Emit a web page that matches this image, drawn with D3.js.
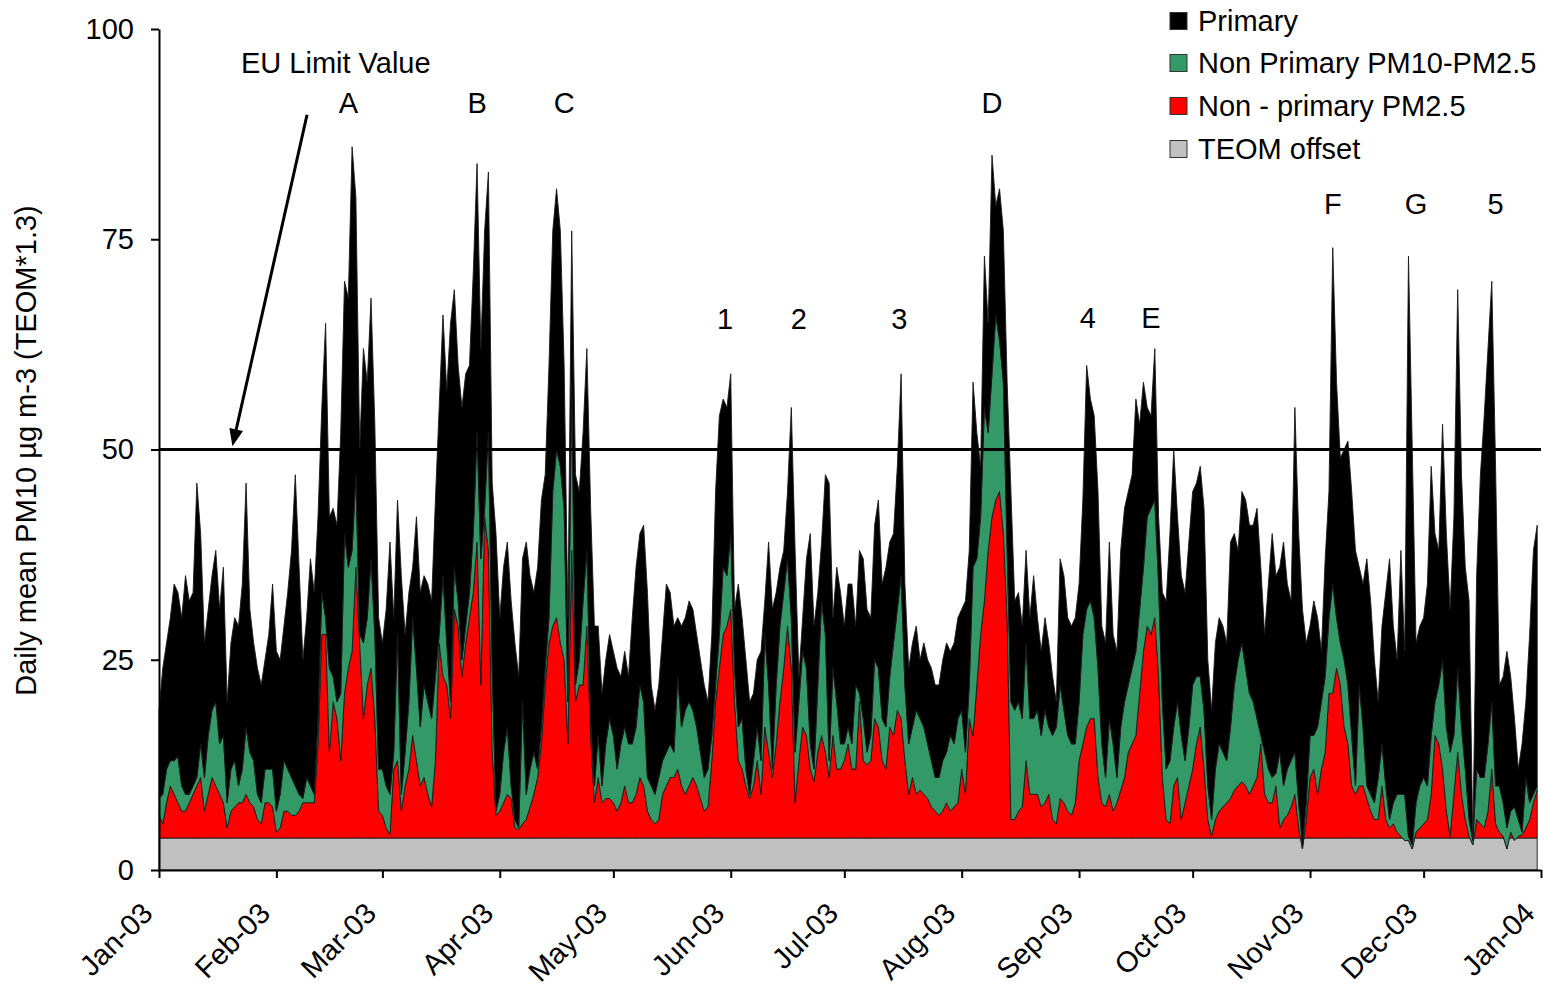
<!DOCTYPE html>
<html>
<head>
<meta charset="utf-8">
<script src="https://cdn.jsdelivr.net/npm/d3@7"></script>
<style>
  body { margin: 0; background: #fff; }
  svg { display: block; }
  text { font-family: "Liberation Sans", Arial, sans-serif; fill: #000; }
</style>
</head>
<body>
<svg id="chart" width="1543" height="988"></svg>
<script>
// Daily series for 2003, day 0 = 1 January
const startDate = Date.UTC(2003, 0, 1);
const endDate = Date.UTC(2004, 0, 1);

// Total daily mean PM10 (TEOM*1.3), µg m-3
const pm10Total = [
  19,24,27,30,34,33,30,35,32,33, 46,40,27,31,35,38,31,36,20,27,
  30,29,34,46,31,27,24,22,25,28, 34,26,25,29,33,38,47,36,25,30,
  37,33,42,55,65,42,43,41,52,70, 68,86,80,50,62,58,68,53,30,27,
  31,39,30,44,35,28,33,36,42,33, 35,34,32,44,55,66,57,65,69,60,
  55,59,60,71,84,62,76,83,46,40, 30,36,39,32,27,23,37,39,35,33,
  36,44,47,60,76,81,76,60,30,76, 47,45,52,62,43,29,29,21,25,28,
  26,24,23,26,23,30,36,40,41,33, 22,19,22,28,34,33,29,30,29,30,
  32,31,28,25,22,20,28,45,54,56, 55,59,31,34,30,25,20,21,25,26,
  32,39,31,33,36,38,45,55,38,23, 30,37,40,29,33,39,47,46,30,36,
  33,29,34,34,29,38,37,31,30,41, 44,34,36,39,40,48,59,34,24,27,
  29,25,27,25,24,22,22,25,27,26, 27,30,31,32,38,58,52,48,73,65,
  85,79,81,76,58,45,32,33,29,38, 30,35,30,26,30,27,23,20,37,35,
  30,29,30,34,44,60,56,54,45,29, 27,39,28,26,38,43,45,47,56,53,
  58,55,54,62,42,33,32,40,50,42, 35,33,39,45,46,48,43,25,19,27,
  30,29,27,39,40,38,45,44,41,41, 43,36,28,34,40,35,36,39,34,32,
  55,40,31,27,29,32,30,26,37,45, 74,58,49,50,51,45,38,36,34,37,
  32,25,20,29,33,37,29,25,38,26, 73,50,27,29,30,34,48,40,38,53,
  40,31,42,69,47,36,32,3.5,35,47, 54,62,70,48,22,23,26,23,18,12,
  15,20,28,38,41
];

// Level reached by the non-primary part of PM10 (offset + PM2.5 + PM10-PM2.5)
const nonPrimaryPM10 = [
  8.5,9,12,13,13,13.5,10,9,9,10, 11,15,11,16,19,20,15,16,8,12,
  13,10,12,17,14,13,9,8,12,12, 12,7,9,13,12,11,10,9,8.5,11,
  10,9,18,33,30,24,23,20,21,40, 36,38,47,28,27,30,37,28,12,12,
  10,9,14,28,9,14,20,30,24,17, 22,20,18,23,28,35,27,20,36,32,
  25,29,33,40,52,37,43,52,24,7, 9,14,17,10,6,5,20,9,12,14,
  12,17,24,30,45,50,48,43,20,58, 22,25,32,38,18,10,16,10,15,18,
  16,12,15,17,15,15,17,22,20,11, 10,9,11,13,14,15,14,23,17,19,
  20,19,17,14,11,12,16,22,28,36, 35,40,24,17,18,12,9,13,17,13,
  28,22,12,22,29,33,37,30,14,20, 26,24,15,12,22,32,28,13,24,20,
  15,15,17,15,22,21,18,14,16,25, 24,18,17,23,27,31,35,22,15,17,
  19,18,17,15,13,11,11,13,14,16, 15,18,19,14,22,36,37,42,55,52,
  59,66,63,58,38,20,19,20,18,27, 18,18,19,16,19,17,16,17,22,19,
  16,15,15,20,28,31,32,30,24,15, 11,18,15,11,17,20,22,24,26,31,
  36,42,43,44,34,20,12,13,17,20, 16,13,17,22,23,23,19,10,6,12,
  15,14,13,17,22,25,27,24,21,20, 18,16,14,12,11,11.5,14,10,12,13,
  14,8,3,8,16,16,17,20,23,30, 34,30,27,25,22,16,10,22,17,10,
  9,8,11,15,10,6,8,9,9,9, 4,3,8,10,11,10,16,20,22,25,
  17,14,16,24,17,12,6,3.5,12,11, 11,15,20,10,10,8,5,7,7.5,6,
  4.5,11,8,9,10
];

// Level reached by the non-primary PM2.5 part (offset + PM2.5)
const nonPrimaryPM25 = [
  6.5,5.5,8,10,9,8,7,7,8,9, 10,11,7,9,11,10,9,8,5,7,
  7.5,8,8,9,8,7.5,6,5.5,8,8, 7.5,4.5,5,7,7,6.5,6.5,7,8,8,
  8,8,15,28,28,14,20,18,13,21, 24,26,36,27,18,22,24,18,7,6.5,
  5,4.2,12,13,7,10,12,16,13,10, 11,9,7.5,13,27,23,22,18,31,29,
  23,27,30,33,39,22,42,38,14,6.5, 7,8,9,8.5,5,4.8,5.5,6,7.5,9,
  11,15,22,27,29,30,27,25,15,38, 20,22,22,29,16,8,11,8,8.5,8.5,
  8,7,8,10,8,8,9,11,10,7, 6,5.5,6,9,10,11,11,12,10,9,
  10,11,10,8.5,7,7.5,13,20,24,28, 29,31,20,13,12,10,8.5,10,13,9,
  17,14,11,15,20,24,29,24,8,13, 17,16,12,10.5,14,16,14,11,16,12,
  12,13,15,12,12,20,13,12.5,13,18, 17,13,12,17,16,19,18,13,9,11,
  9,9.5,9,8.5,7.5,7,6.5,7,8,7, 7.5,8,12,9,18,16,22,28,32,38,
  42,44,45,40,30,6,6,7,7.5,13, 9,9,9,7.5,8,9,6,5.5,8.5,8,
  7,6.5,8,13,15,17,18,18,11,8, 7.5,9,7,8,9.5,11,14,15,16,21,
  26,29,28,30,23,11,6,5.5,10,11, 6,8,10,12,15,17,12,6,4,6,
  7,7.5,8,8.5,9.5,10,10.5,10,9,10, 11,15,9,8,8,10,5,6,6.5,7.5,
  9,5,2.5,6,11,12,9,12,14,21, 21,24,22,17,15,10,9,10,10,8.5,
  7,6,6,10,6,5,5.5,4.5,4,3.5, 3.5,2.5,4.5,5,5.5,6,9,16,15,12,
  7,4,9,14,9,6,4,3,6,5.5, 5,7,12,5.5,4.5,4,2.5,4.5,3.5,4,
  4.2,5,6,8,9.5
];

const teomOffset = 3.8;   // constant TEOM offset
const euLimit = 50;       // EU daily limit value
const yTicks = [0, 25, 50, 75, 100];

const legendLabels = ["Primary", "Non Primary PM10-PM2.5", "Non - primary PM2.5", "TEOM offset"];
const layerKeys = ["offset", "fine", "coarse", "primary"];
const layerColors = { offset: "#c0c0c0", fine: "#ff0000", coarse: "#339966", primary: "#000000" };
const legendKeys = ["primary", "coarse", "fine", "offset"];

// Episode markers: label, day of year, height (µg m-3) of the label centre
const episodeLabels = ["A", "B", "C", "D", "1", "2", "3", "4", "E", "F", "G", "5"];
const episodeDays   = [50, 84, 107, 220, 149.5, 169, 195.5, 245.3, 262, 310, 332, 353];
const episodeLevels = [91.2, 91.2, 91.2, 91.2, 65.5, 65.5, 65.5, 65.6, 65.6, 79.2, 79.2, 79.2];

// Limit-value note and its arrow (day, level)
const limitNote = { text: "EU Limit Value", day: 46.7, level: 96 };
const arrowFrom = [39.1, 89.8];
const arrowTo = [19.4, 50.4];

const FONT = 29;

const svg = d3.select("#chart");
const margin = { left: 159, right: 2, top: 29, bottom: 118 };
const W = 1543, H = 988;

const dayToDate = d => new Date(startDate + d * 864e5);

const x = d3.scaleUtc()
  .domain([new Date(startDate), new Date(endDate)])
  .range([margin.left, W - margin.right]);
const y = d3.scaleLinear()
  .domain([0, 100])
  .range([H - margin.bottom, margin.top]);

const rows = pm10Total.map((t, i) => ({
  date: dayToDate(i),
  offset: teomOffset,
  fine: nonPrimaryPM25[i] - teomOffset,
  coarse: nonPrimaryPM10[i] - nonPrimaryPM25[i],
  primary: t - nonPrimaryPM10[i]
}));

const series = d3.stack().keys(layerKeys)(rows);

const area = d3.area()
  .x(d => x(d.data.date))
  .y0(d => y(d[0]))
  .y1(d => y(d[1]));

svg.append("rect").attr("width", W).attr("height", H).attr("fill", "#fff");

svg.append("g").selectAll("path")
  .data(series)
  .join("path")
  .attr("d", area)
  .attr("fill", s => layerColors[s.key])
  .attr("stroke", "#1a1a1a")
  .attr("stroke-width", 0.9)
  .attr("stroke-linejoin", "round");

// EU limit line
svg.append("line")
  .attr("x1", x.range()[0]).attr("x2", x.range()[1])
  .attr("y1", y(euLimit)).attr("y2", y(euLimit))
  .attr("stroke", "#000").attr("stroke-width", 3);

// Axes
const yAxis = d3.axisLeft(y).tickValues(yTicks).tickSize(8).tickSizeOuter(0).tickPadding(17);
const gy = svg.append("g").attr("transform", `translate(${margin.left},0)`).call(yAxis);
gy.select(".domain").attr("stroke", "#000").attr("stroke-width", 2);
gy.selectAll(".tick line").attr("stroke", "#000").attr("stroke-width", 2);
gy.selectAll(".tick text").attr("font-size", FONT).attr("font-family", "Liberation Sans, Arial, sans-serif");

const xAxis = d3.axisBottom(x)
  .ticks(d3.utcMonth.every(1))
  .tickFormat(d3.utcFormat("%b-%y"))
  .tickSize(8).tickSizeOuter(0);
const gx = svg.append("g").attr("transform", `translate(0,${y(0)})`).call(xAxis);
gx.select(".domain").attr("stroke", "#000").attr("stroke-width", 2);
gx.selectAll(".tick line").attr("stroke", "#000").attr("stroke-width", 2);
gx.selectAll(".tick text")
  .attr("font-size", FONT)
  .attr("font-family", "Liberation Sans, Arial, sans-serif")
  .attr("text-anchor", "end")
  .attr("x", null).attr("y", null).attr("dy", null)
  .attr("transform", "translate(-5,45) rotate(-45)");

// Y axis title
svg.append("text")
  .attr("transform", `translate(36,${(y(0) + y(100)) / 2 + 1}) rotate(-90)`)
  .attr("text-anchor", "middle")
  .attr("font-size", FONT)
  .text("Daily mean PM10 µg m-3 (TEOM*1.3)");

// Episode labels
svg.append("g").selectAll("text")
  .data(episodeLabels)
  .join("text")
  .attr("x", (d, i) => x(dayToDate(episodeDays[i])))
  .attr("y", (d, i) => y(episodeLevels[i]))
  .attr("dy", "0.35em")
  .attr("text-anchor", "middle")
  .attr("font-size", FONT)
  .text(d => d);

// Limit note and arrow
svg.append("text")
  .attr("x", x(dayToDate(limitNote.day)))
  .attr("y", y(limitNote.level))
  .attr("dy", "0.35em")
  .attr("text-anchor", "middle")
  .attr("font-size", FONT)
  .text(limitNote.text);

const ax0 = x(dayToDate(arrowFrom[0])), ay0 = y(arrowFrom[1]);
const ax1 = x(dayToDate(arrowTo[0])), ay1 = y(arrowTo[1]);
const ang = Math.atan2(ay1 - ay0, ax1 - ax0);
const headLen = 17, headW = 7;
const bx = ax1 - headLen * Math.cos(ang), by = ay1 - headLen * Math.sin(ang);
svg.append("line")
  .attr("x1", ax0).attr("y1", ay0).attr("x2", bx).attr("y2", by)
  .attr("stroke", "#000").attr("stroke-width", 3);
svg.append("path")
  .attr("d", `M${ax1},${ay1}L${bx + headW * Math.sin(ang)},${by - headW * Math.cos(ang)}L${bx - headW * Math.sin(ang)},${by + headW * Math.cos(ang)}Z`)
  .attr("fill", "#000");

// Legend
const legend = svg.append("g").attr("transform", "translate(1170,0)");
const rowsY = [21, 63, 106, 149];
legendKeys.forEach((k, i) => {
  legend.append("rect")
    .attr("x", 0).attr("y", rowsY[i] - 8.5)
    .attr("width", 17).attr("height", 17)
    .attr("fill", layerColors[k])
    .attr("stroke", "#333").attr("stroke-width", 1);
  legend.append("text")
    .attr("x", 28).attr("y", rowsY[i])
    .attr("dy", "0.35em")
    .attr("font-size", FONT)
    .text(legendLabels[i]);
});
</script>
</body>
</html>
